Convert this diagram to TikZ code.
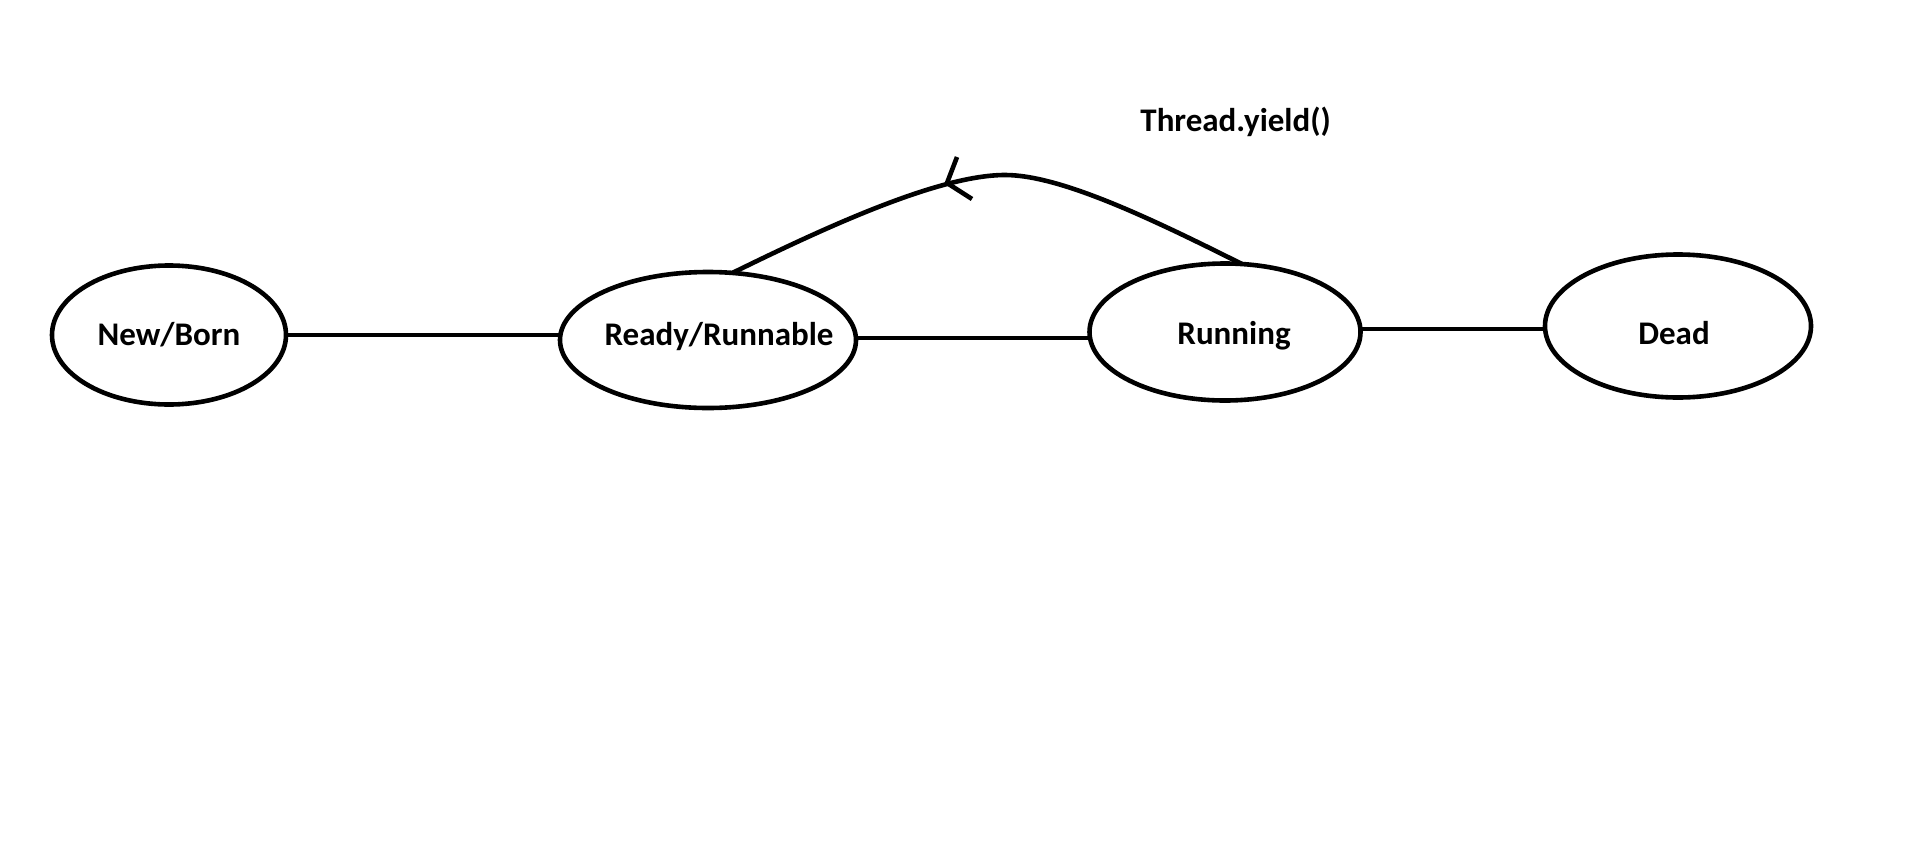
\documentclass[tikz,border=0pt]{standalone}
\usepackage{fontspec}
\setmainfont{Carlito}
\usetikzlibrary{shapes.geometric}
\begin{document}
\begin{tikzpicture}[x=0.5pt, y=-0.5pt,
  statebox/.style={draw, ellipse, line width=2.3pt, inner sep=0pt, outer sep=0pt},
  lbl/.style={anchor=base, inner sep=0pt, font=\fontsize{16.5}{20}\selectfont\bfseries},
  edge/.style={draw, line width=2.3pt}]
  % canvas
  \fill[white] (0,0) rectangle (1914,867);
  \useasboundingbox (0,0) rectangle (1914,867);

  % states
  \node[statebox, minimum width=117pt, minimum height=69.5pt] (new) at (169,335) {};
  \node[statebox, minimum width=148pt, minimum height=68pt] (ready) at (708,340) {};
  \node[statebox, minimum width=135.5pt, minimum height=68.5pt] (running) at (1225,332) {};
  \node[statebox, minimum width=133pt, minimum height=71.5pt] (dead) at (1678,326) {};

  % state names
  \node[lbl] (newtxt) at (169,345) {New/Born};
  \node[lbl] (readytxt) at (719,345) {Ready/Runnable};
  \node[lbl] (runtxt) at (1234,344) {Running};
  \node[lbl] (deadtxt) at (1674,344) {Dead};

  % transitions
  \draw[edge] (new.east) -- (new.east -| ready.west);
  \draw[edge] ([yshift=1pt]ready.east) -- ([yshift=1pt]ready.east -| running.west);
  \draw[edge] ([yshift=1.5pt]running.east) -- ([yshift=1.5pt]running.east -| dead.west);

  % yield: running back to ready
  \coordinate (peak) at (1005,175);
  \draw[edge] (ready.70) .. controls (830,225) and (940,175) .. (peak)
              .. controls (1060,175) and (1150,218) .. (running.76);
  \coordinate (tip) at (947,183);
  \draw[edge] (tip) -- +(10,-26);
  \draw[edge] (tip) -- +(25,16);
  \node[lbl, anchor=base west] (yieldtxt) at (1140,131) {Thread.yield()};
\end{tikzpicture}
\end{document}
